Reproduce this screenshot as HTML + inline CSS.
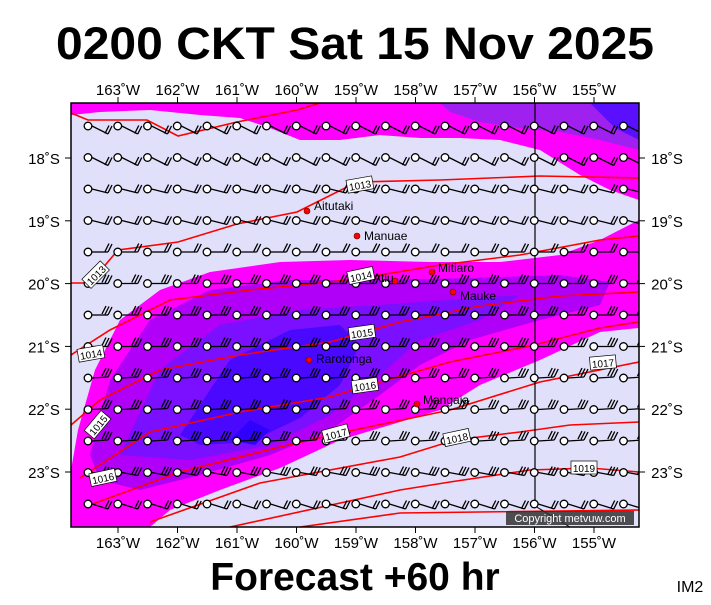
<!DOCTYPE html>
<html><head><meta charset="utf-8"><style>
body{margin:0;background:#fff;width:711px;height:600px;overflow:hidden;font-family:"Liberation Sans",sans-serif}
</style></head><body>
<svg id="s" width="711" height="600" xmlns="http://www.w3.org/2000/svg" font-family="Liberation Sans, sans-serif">
<text x="355" y="59" font-size="45" font-weight="bold" text-anchor="middle" textLength="598" lengthAdjust="spacingAndGlyphs">0200 CKT Sat 15 Nov 2025</text>
<text x="355" y="590" font-size="39" font-weight="bold" text-anchor="middle">Forecast +60 hr</text>
<text x="690" y="592" font-size="16" text-anchor="middle">IM2</text>
<defs><clipPath id="c"><rect x="71" y="103" width="568" height="424"/></clipPath></defs>
<g clip-path="url(#c)">
<rect x="71" y="103" width="568" height="424" fill="#e0e0fa"/>
<path d="M71,103H639V200L610,190L580,175L540,150L500,140L460,138L420,138L380,135L340,140L300,140L270,128L240,118L200,115L150,110L100,112L71,115Z" fill="#ff00ff"/>
<path d="M440,103H639V150L600,140L560,132L520,128L480,122L450,112Z" fill="#a020f0"/>
<path d="M590,103H639V140L615,128Z" fill="#5a10ff"/>
<path d="M71,527V470L78,430L95,370L120,320L160,290L210,272L280,262L350,260L430,262L500,262L560,255L600,240L639,220V328L600,332L540,360L480,385L440,410L390,425L340,440L280,468L220,490L170,510L150,527Z" fill="#ff00ff"/>
<path d="M71,527V475L90,478L130,495L110,527Z" fill="#ff00ff"/>
<path d="M90,455L110,380L150,320L210,290L290,280L380,280L470,278L560,275L610,282L600,305L540,320L470,340L420,365L380,395L330,430L270,455L200,475L140,490L100,480Z" fill="#b000f8"/>
<path d="M120,455L160,370L220,325L300,310L380,305L450,300L520,295L480,320L420,340L380,375L330,415L270,445L190,460Z" fill="#7a10ff"/>
<path d="M180,435L230,360L290,330L340,325L360,345L340,385L300,418L250,442L200,445Z" fill="#4a08ff"/>
<path d="M230,440L250,420L270,430L255,445Z" fill="#3000ff"/>
<g fill="none" stroke="#f00" stroke-width="1.6">
<polyline points="71,113 88,120 147,120 178,136 237,122 297,110 330,100"/>
<polyline points="71,283 90,283 118,250 178,242 237,224 297,212 357,182 440,180 540,176 639,178"/>
<polyline points="71,355 110,330 170,300 250,290 330,282 380,275 440,265 520,255 600,240 639,236"/>
<polyline points="71,425 100,400 160,370 240,355 330,342 400,322 480,306 560,296 639,292"/>
<polyline points="80,478 150,432 240,412 330,397 366,386 450,362 530,346 600,328 639,322"/>
<polyline points="90,505 180,472 280,447 340,433 450,410 540,382 639,362"/>
<polyline points="150,522 260,483 400,457 455,440 520,432 570,425 639,422"/>
<polyline points="230,527 400,490 450,482 530,470 590,468 639,472"/>
<polyline points="300,527 400,513 639,510"/>
</g>
<line x1="535" y1="103" x2="535" y2="506" stroke="#000" stroke-width="1.2"/>
<line x1="535" y1="506" x2="570" y2="527" stroke="#000" stroke-width="1"/>
<g id="b" stroke="#000" stroke-width="1.3" fill="none"></g>
<g font-size="10" text-anchor="middle">
<g transform="translate(360,185) rotate(-10)"><rect x="-13" y="-7" width="26" height="13" fill="#fff" stroke="#000" stroke-width=".7"/><text y="4">1013</text></g>
<g transform="translate(96,275) rotate(-45)"><rect x="-13" y="-7" width="26" height="13" fill="#fff" stroke="#000" stroke-width=".7"/><text y="4">1013</text></g>
<g transform="translate(361,276) rotate(-12)"><rect x="-13" y="-7" width="26" height="13" fill="#fff" stroke="#000" stroke-width=".7"/><text y="4">1014</text></g>
<g transform="translate(91,354) rotate(-10)"><rect x="-13" y="-7" width="26" height="13" fill="#fff" stroke="#000" stroke-width=".7"/><text y="4">1014</text></g>
<g transform="translate(362,333) rotate(-8)"><rect x="-13" y="-7" width="26" height="13" fill="#fff" stroke="#000" stroke-width=".7"/><text y="4">1015</text></g>
<g transform="translate(98,425) rotate(-50)"><rect x="-13" y="-7" width="26" height="13" fill="#fff" stroke="#000" stroke-width=".7"/><text y="4">1015</text></g>
<g transform="translate(365,386) rotate(-8)"><rect x="-13" y="-7" width="26" height="13" fill="#fff" stroke="#000" stroke-width=".7"/><text y="4">1016</text></g>
<g transform="translate(103,478) rotate(-12)"><rect x="-13" y="-7" width="26" height="13" fill="#fff" stroke="#000" stroke-width=".7"/><text y="4">1016</text></g>
<g transform="translate(336,434) rotate(-15)"><rect x="-13" y="-7" width="26" height="13" fill="#fff" stroke="#000" stroke-width=".7"/><text y="4">1017</text></g>
<g transform="translate(603,363) rotate(-5)"><rect x="-13" y="-7" width="26" height="13" fill="#fff" stroke="#000" stroke-width=".7"/><text y="4">1017</text></g>
<g transform="translate(457,438) rotate(-12)"><rect x="-13" y="-7" width="26" height="13" fill="#fff" stroke="#000" stroke-width=".7"/><text y="4">1018</text></g>
<g transform="translate(584,468)"><rect x="-13" y="-7" width="26" height="13" fill="#fff" stroke="#000" stroke-width=".7"/><text y="4">1019</text></g>
</g>
<g fill="#f00" stroke="#600" stroke-width=".6">
<circle cx="307" cy="211" r="3"/><circle cx="357" cy="236" r="3"/><circle cx="432" cy="272" r="3"/><circle cx="395" cy="281" r="3"/><circle cx="453" cy="292" r="3"/><circle cx="309" cy="360" r="3"/><circle cx="417" cy="404" r="3"/>
</g>
<g font-size="12" fill="#000">
<text x="314" y="210">Aitutaki</text><text x="364" y="240">Manuae</text><text x="438" y="272">Mitiaro</text><text x="373" y="282">Atiu</text><text x="460" y="300">Mauke</text><text x="316" y="363">Rarotonga</text><text x="423" y="404">Mangaia</text>
</g>
<rect x="506" y="511" width="128" height="14" fill="#333" opacity=".85"/>
<text x="570" y="522" font-size="11" fill="#fff" text-anchor="middle">Copyright metvuw.com</text>
</g>
<rect x="71" y="103" width="568" height="424" fill="none" stroke="#000" stroke-width="1.5"/>
<g font-size="15" text-anchor="middle" id="lab"></g>
</svg>
<script>
var ns="http://www.w3.org/2000/svg",b=document.getElementById('b'),lab=document.getElementById('lab');
function el(p,t,a){var e=document.createElementNS(ns,t);for(var k in a)e.setAttribute(k,a[k]);p.appendChild(e);return e;}
for(var j=0;j<13;j++){var y=126+31.5*j;for(var i=0;i<19;i++){var x=88+29.75*i;
var dy=j<2?8:(j<4?4:(j<8?0:(j<11?-1:3)));if(j==12)dy=5;
var ex=x+20,ey=y+dy;
el(b,'line',{x1:x+4,y1:y,x2:ex,y2:ey});
var n=(j>4&&j<12)?3:2;
for(var k=0;k<n;k++){var bx=ex-k*3,by=ey-k*0.5;el(b,'line',{x1:bx,y1:by,x2:bx+4,y2:by-8});}
el(b,'circle',{cx:x,cy:y,r:3.8,fill:'#fff'});}}
var lons=['163','162','161','160','159','158','157','156','155'];
lons.forEach(function(l,i){var x=118+59.5*i;var t=el(lab,'text',{x:x,y:95});t.textContent=l+'˚W';t=el(lab,'text',{x:x,y:548});t.textContent=l+'˚W';
el(lab,'line',{x1:x,y1:97,x2:x,y2:103,stroke:'#000'});el(lab,'line',{x1:x,y1:527,x2:x,y2:533,stroke:'#000'});});
['18','19','20','21','22','23'].forEach(function(l,i){var y=158+62.8*i;var t=el(lab,'text',{x:44,y:y+6});t.textContent=l+'˚S';t=el(lab,'text',{x:667,y:y+6});t.textContent=l+'˚S';
el(lab,'line',{x1:65,y1:y,x2:71,y2:y,stroke:'#000'});el(lab,'line',{x1:639,y1:y,x2:645,y2:y,stroke:'#000'});});
</script>
</body></html>
